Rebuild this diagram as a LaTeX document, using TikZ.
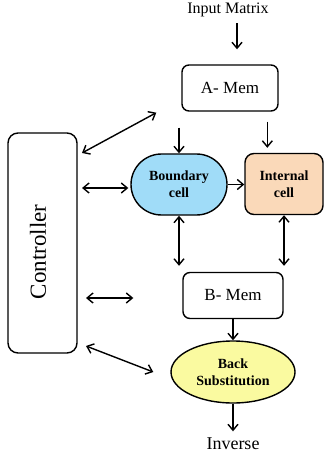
\documentclass[tikz,border=0pt]{standalone}
\usepackage{fontspec}
\setmainfont{Liberation Serif}
\usetikzlibrary{arrows.meta}
\usetikzlibrary{positioning}
\usetikzlibrary{shapes.geometric}
\usetikzlibrary{shapes.misc}
\definecolor{cellblue}{HTML}{A0DCF8}
\definecolor{cellpeach}{HTML}{FAD9B9}
\definecolor{backyellow}{HTML}{FAFAA0}
\tikzset{>={Straight Barb[length=6pt,width=10pt]}}
\tikzset{mem/.style = {draw, rounded corners = 7, minimum width = 96, minimum height = 46,
                       font = \fontsize{17}{17}\selectfont}}
\tikzset{cell/.style = {draw, align = center, inner sep = 0,
                        font = \bfseries\fontsize{14}{17}\selectfont}}
\tikzset{lbl/.style = {inner xsep = 0, font = \fontsize{16}{16}\selectfont}}

\begin{document}
\begin{tikzpicture}[x = 1pt, y = -1pt, line width = 1.4pt]
  \useasboundingbox (0, 0) rectangle (324, 462);
  \node [lbl, inner ysep = 6] (input) at (228, 9.5) {Input Matrix};
  \node [mem] (amem) at (230, 88) {A- Mem};
  \node [mem, minimum width = 100] (bmem) at (233, 295.5) {B- Mem};
  \node [draw, rounded corners = 10, minimum width = 69, minimum height = 220] (ctrl) at (42.5, 243) {};
  \node [rotate = 90, font = \fontsize{23}{23}\selectfont] (ctrllbl) at (38, 252) {Controller};
  \node [cell, rounded rectangle, fill = cellblue, minimum width = 96, minimum height = 61] (bcell) at (179, 184.5) {Boundary\\cell};
  \node [cell, rounded corners = 9, fill = cellpeach, minimum width = 78, minimum height = 61] (icell) at (284, 184) {Internal\\cell};
  \node [cell, ellipse, fill = backyellow, minimum width = 124, minimum height = 62] (back) at (233, 372) {Back\\Substitution};
  \node [lbl, inner ysep = 6, font = \fontsize{18}{18}\selectfont] (inverse) at (233, 444) {Inverse};
  \coordinate (ca) at (82, 153);
  \coordinate (cb) at (82, 188);
  \coordinate (cc) at (86, 298);
  \coordinate (cd) at (86, 346);
  \coordinate (ic) at ([xshift = 23pt]icell.north west);
  % input and memories
  \draw [->] ([xshift = 9pt]input.south) -- ([xshift = 7pt, yshift = 15pt]amem.north);
  \draw [->, shorten < = 16pt] (bcell.north |- amem.south) -- (bcell.north);
  \draw [->, shorten < = 10pt, shorten > = 5pt] (ic |- amem.south) -- (ic);
  \draw [->] (bcell.east) -- (bcell.east -| icell.west);
  \draw [<->, shorten > = 6pt] (bcell.south) -- (bcell.south |- bmem.north);
  \draw [<->, shorten > = 6pt] (icell.south) -- (icell.south |- bmem.north);
  \draw [->] (bmem.south) -- (bmem.south |- back.north);
  \draw [->] (back.south) -- (inverse.north);
  % controller
  \draw [<->] (ca) -- ([xshift = -25pt, yshift = -1pt]amem.south west);
  \draw [<->, shorten > = 2pt] (cb) -- (cb -| bcell.west);
  \draw [<->, shorten > = 49pt] (cc) -- (cc -| bmem.west);
  \draw [<->] (cd) -- ([xshift = -17pt]back.west);
\end{tikzpicture}
\end{document}
